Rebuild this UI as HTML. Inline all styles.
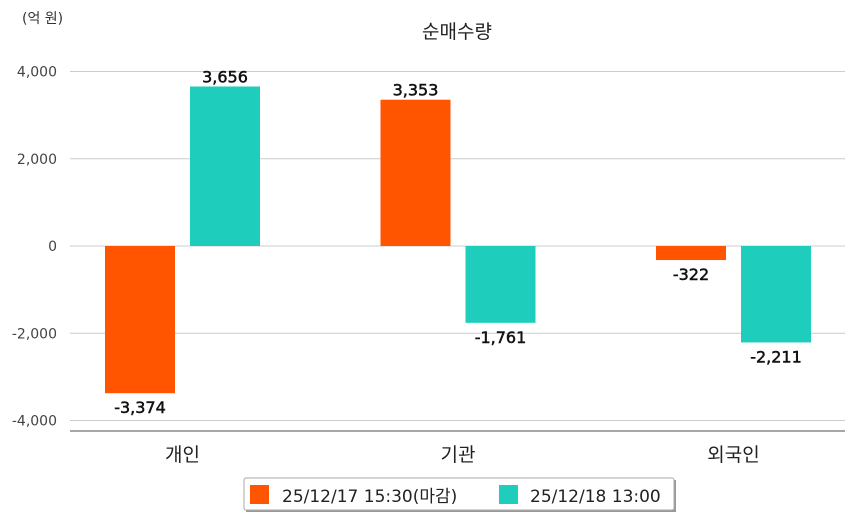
<!DOCTYPE html>
<html><head><meta charset="utf-8"><style>
body{margin:0;background:#fff;}
svg text{font-family:"DejaVu Sans","Noto Sans CJK KR",sans-serif;}
</style></head><body>
<svg id="c" width="854" height="520" xmlns="http://www.w3.org/2000/svg">
<text x="22" y="23" font-size="14" fill="#333">(억 원)</text>
<text x="457" y="38" font-size="19" fill="#222" text-anchor="middle">순매수량</text>
<g id="grid"></g><g id="bars"></g>
<line x1="70" y1="431" x2="845" y2="431" stroke="#888" stroke-width="1.5"/>
<g>
<rect x="246" y="480" width="430" height="32" fill="#999"/>
<rect x="244" y="478" width="430" height="32" fill="#fff" stroke="#aaa" rx="2"/>
<g><rect x="250" y="485" width="19" height="19" fill="#ff5400"/><text x="282" y="502" font-size="17" fill="#222">25/12/17 15:30(마감)</text></g>
<g><rect x="499" y="485" width="19" height="19" fill="#1ecdbc"/><text x="530" y="502" font-size="17" fill="#222">25/12/18 13:00</text></g>
</g>
</svg>
<script>
const categories=["개인","기관","외국인"];
const series1=[-3374,3353,-322];
const series2=[3656,-1761,-2211];
const ticks=[4000,2000,0,-2000,-4000];
const NS="http://www.w3.org/2000/svg";
const y=v=>246-v*0.043625;
const cx=i=>182.5+275.5*i;
function mk(t,a,p,txt){const e=document.createElementNS(NS,t);for(const k in a)e.setAttribute(k,a[k]);if(txt!==undefined)e.textContent=txt;p.appendChild(e);return e;}
const g=document.getElementById('grid'),b=document.getElementById('bars');
ticks.forEach(t=>{
const l=mk('line',{x1:70,x2:845,y1:y(t),y2:y(t),stroke:'#ccc'},g);


const tx=mk('text',{x:57,y:y(t)+5,'font-size':14,fill:'#444','text-anchor':'end'},g,t.toLocaleString('en-US'));


});
categories.forEach((c,i)=>{
const t=mk('text',{x:cx(i),y:461,'font-size':19,fill:'#222','text-anchor':'middle'},b,c);


[[series1,'#ff5400',-77.5],[series2,'#1ecdbc',7.5]].forEach(([s,col,off])=>{
const v=s[i],x=cx(i)+off,top=Math.min(y(v),y(0)),h=Math.abs(y(v)-y(0));
const r=mk('rect',{x:x,y:top,width:70,height:h,fill:col},b);


const ly=v>=0?y(v)-4:y(v)+20;
const lt=mk('text',{x:x+35,y:ly,'font-size':16,fill:'#111',stroke:'#111','stroke-width':0.5,'text-anchor':'middle'},b,v.toLocaleString('en-US'));


});
});
</script>
</body></html>
